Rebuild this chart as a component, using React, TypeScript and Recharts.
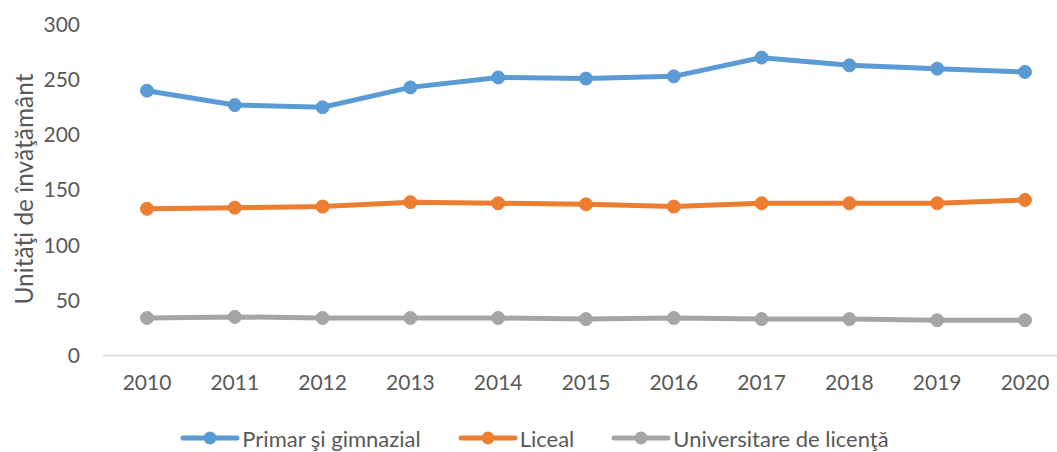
import React from "react";
import { LineChart, Line, XAxis, YAxis, Legend } from "recharts";

const years = ["2010", "2011", "2012", "2013", "2014", "2015", "2016", "2017", "2018", "2019", "2020"];
const primar = [240, 227, 225, 243, 252, 251, 253, 270, 263, 260, 257];
const liceal = [133, 134, 135, 139, 138, 137, 135, 138, 138, 138, 141];
const universitar = [34, 35, 34, 34, 34, 33, 34, 33, 33, 32, 32];
const yTicks = [0, 50, 100, 150, 200, 250, 300];

const seriesNames = ["Primar şi gimnazial", "Liceal", "Universitare de licenţă"];
const colors = ["#5B9BD5", "#ED7D31", "#A5A5A5"];

const data = years.map((y, i) => ({
  year: y,
  primar: primar[i],
  liceal: liceal[i],
  universitar: universitar[i],
}));

const FONT = "Lato, 'Open Sans', sans-serif";
const TEXT = "#595959";

const LegendContent = () => (
  <div
    style={{
      height: 24,
      display: "flex",
      justifyContent: "center",
      alignItems: "center",
      fontFamily: FONT,
      fontSize: 22,
      color: TEXT,
      paddingLeft: 12,
    }}
  >
    {seriesNames.map((n, i) => (
      <div key={n} style={{ display: "flex", alignItems: "center", marginRight: i < 2 ? 37 : 0 }}>
        <svg width={60} height={16} style={{ marginRight: 2 }}>
          <line x1={3} y1={8} x2={57} y2={8} stroke={colors[i]} strokeWidth={5} strokeLinecap="round" />
          <circle cx={30} cy={8} r={6.5} fill={colors[i]} />
        </svg>
        <span>{n}</span>
      </div>
    ))}
  </div>
);

const YLabel = () => (
  <text
    x={0}
    y={0}
    transform="translate(23,189) rotate(-90)"
    textAnchor="middle"
    dominantBaseline="central"
    fontFamily={FONT}
    fontSize={24.5}
    fill={TEXT}
  >
    Unităţi de învăţământ
  </text>
);

export default function App() {
  const keys = ["primar", "liceal", "universitar"];
  return (
    <div style={{ position: "absolute", left: 0, top: 0, width: 1057, height: 452, background: "#fff" }}>
      <LineChart
        width={1057}
        height={452}
        data={data}
        margin={{ top: 24.5, right: 0, bottom: 2, left: 0 }}
      >
        <XAxis
          dataKey="year"
          padding={{ left: 44, right: 32 }}
          axisLine={{ stroke: "#D9D9D9", strokeWidth: 1.5 }}
          tickLine={false}
          tickSize={0}
          tickMargin={20}
          height={70.5}
          tick={{ fill: TEXT, fontSize: 21, fontFamily: FONT }}
          interval={0}
        />
        <YAxis
          domain={[0, 300]}
          ticks={yTicks}
          width={103}
          axisLine={false}
          tickLine={false}
          tickSize={0}
          tickMargin={23}
          tick={{ fill: TEXT, fontSize: 21, fontFamily: FONT }}
          label={<YLabel />}
        />
        <Legend verticalAlign="bottom" height={24} content={<LegendContent />} />
        {keys.map((k, i) => (
          <Line
            key={k}
            dataKey={k}
            name={seriesNames[i]}
            stroke={colors[i]}
            strokeWidth={5}
            dot={{ r: 6.5, fill: colors[i], stroke: colors[i], strokeWidth: 1 }}
            activeDot={false}
            isAnimationActive={false}
          />
        ))}
      </LineChart>
    </div>
  );
}
